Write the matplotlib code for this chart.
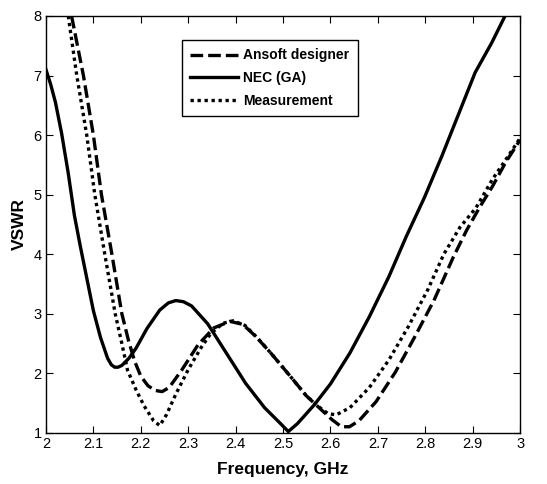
import numpy as np
import matplotlib
matplotlib.use('Agg')
import matplotlib.pyplot as plt

plt.rcParams['font.family'] = ['Liberation Sans', 'DejaVu Sans']

# NEC (GA) simulation
nec_f = [2.000, 2.010, 2.020, 2.033, 2.047, 2.060, 2.072, 2.086, 2.100, 2.115,
         2.130, 2.138, 2.145, 2.152, 2.160, 2.175, 2.190, 2.213, 2.240, 2.258,
         2.274, 2.290, 2.307, 2.341, 2.381, 2.421, 2.461, 2.495, 2.511, 2.530,
         2.566, 2.600, 2.641, 2.682, 2.723, 2.760, 2.798, 2.835, 2.870, 2.905,
         2.940, 2.968]
nec_v = [7.10, 6.85, 6.55, 6.03, 5.36, 4.65, 4.15, 3.60, 3.05, 2.60,
         2.25, 2.14, 2.10, 2.10, 2.13, 2.25, 2.42, 2.75, 3.06, 3.18,
         3.22, 3.20, 3.13, 2.83, 2.33, 1.83, 1.42, 1.15, 1.02, 1.15,
         1.47, 1.82, 2.34, 2.95, 3.62, 4.30, 4.95, 5.65, 6.35, 7.05,
         7.55, 8.00]

# Ansoft designer simulation
ans_f = [2.054, 2.079, 2.100, 2.117, 2.139, 2.160, 2.174, 2.187, 2.200, 2.215,
         2.230, 2.245, 2.260, 2.287, 2.321, 2.354, 2.388, 2.415, 2.442, 2.475,
         2.515, 2.549, 2.576, 2.603, 2.623, 2.640, 2.660, 2.696, 2.737, 2.777,
         2.818, 2.859, 2.887, 2.914, 2.941, 2.970, 3.000]
ans_v = [8.00, 7.00, 6.00, 5.00, 4.00, 3.00, 2.55, 2.20, 1.95, 1.79,
         1.71, 1.69, 1.76, 2.06, 2.48, 2.76, 2.87, 2.82, 2.62, 2.33,
         1.95, 1.62, 1.42, 1.22, 1.10, 1.10, 1.20, 1.52, 2.02, 2.60,
         3.22, 3.95, 4.40, 4.78, 5.13, 5.55, 5.92]

# Measurement
mea_f = [2.047, 2.065, 2.086, 2.103, 2.124, 2.146, 2.160, 2.172, 2.190, 2.207,
         2.227, 2.240, 2.254, 2.274, 2.300, 2.328, 2.348, 2.374, 2.395, 2.420,
         2.445, 2.475, 2.515, 2.549, 2.576, 2.595, 2.612, 2.641, 2.682, 2.723,
         2.764, 2.805, 2.839, 2.873, 2.907, 2.941, 2.975, 3.000]
mea_v = [8.00, 7.00, 6.00, 5.00, 4.00, 3.00, 2.50, 2.05, 1.72, 1.45,
         1.20, 1.12, 1.30, 1.65, 2.06, 2.44, 2.67, 2.84, 2.88, 2.80,
         2.60, 2.33, 1.95, 1.62, 1.43, 1.32, 1.30, 1.42, 1.76, 2.22,
         2.78, 3.40, 4.00, 4.45, 4.78, 5.25, 5.65, 5.95]

xticks = [2, 2.1, 2.2, 2.3, 2.4, 2.5, 2.6, 2.7, 2.8, 2.9, 3]
xtick_labels = ['2', '2.1', '2.2', '2.3', '2.4', '2.5', '2.6', '2.7', '2.8', '2.9', '3']
yticks = [1, 2, 3, 4, 5, 6, 7, 8]

fig = plt.figure(figsize=(5.47, 4.84), dpi=100)
ax = fig.add_axes([0.084, 0.106, 0.867, 0.861])

lw = 2.4
ax.plot(ans_f, ans_v, color='black', lw=lw, linestyle=(0, (3.8, 1.5)),
        dash_capstyle='butt', solid_joinstyle='round', label='Ansoft designer')
ax.plot(nec_f, nec_v, color='black', lw=lw, linestyle='-',
        solid_joinstyle='round', label='NEC (GA)')
ax.plot(mea_f, mea_v, color='black', lw=lw, linestyle=(0, (1, 1.1)),
        dash_capstyle='butt', label='Measurement')

ax.set_xlim(2, 3)
ax.set_ylim(1, 8)
ax.set_xticks(xticks)
ax.set_xticklabels(xtick_labels)
ax.set_yticks(yticks)
ax.tick_params(direction='in', top=True, right=True, length=5, width=0.8,
               labelsize=10.5, pad=3)
for s in ax.spines.values():
    s.set_linewidth(1.0)

ax.set_xlabel('Frequency, GHz', fontsize=12.5, fontweight='bold', labelpad=8)
ax.set_ylabel('VSWR', fontsize=12.5, fontweight='bold', labelpad=5)

leg = ax.legend(loc='upper left', bbox_to_anchor=(0.287, 0.942), fancybox=False,
                edgecolor='black', framealpha=1, handlelength=3.4,
                prop={'weight': 'bold', 'size': 10}, borderpad=0.6,
                labelspacing=0.62, handletextpad=0.4, borderaxespad=0)
leg.get_frame().set_linewidth(1.0)

fig.savefig('out.png', dpi=100, facecolor='white')
